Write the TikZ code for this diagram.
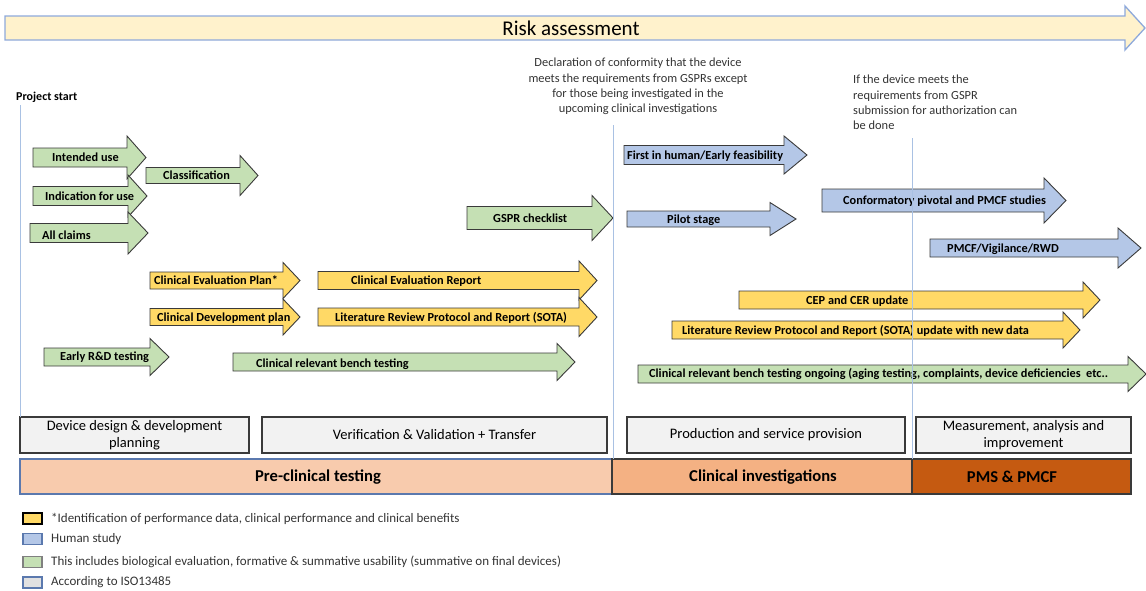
\documentclass[tikz,border=0pt]{standalone}
\usepackage{fontspec}
\setmainfont{Carlito}
\definecolor{rfill}{HTML}{FFF2CC}
\definecolor{rline}{HTML}{8EA9DB}
\definecolor{gfill}{HTML}{C5E0B4}
\definecolor{yfill}{HTML}{FFD966}
\definecolor{bfill}{HTML}{B4C7E7}
\definecolor{grfill}{HTML}{F2F2F2}
\definecolor{oA}{HTML}{F8CBAD}
\definecolor{oB}{HTML}{F4B183}
\definecolor{oC}{HTML}{C55A11}
\definecolor{vline}{HTML}{A9C1E3}
\definecolor{edge}{HTML}{3A3A3A}
\definecolor{txt}{HTML}{333333}
\definecolor{preb}{HTML}{5B79AE}
\newcommand\Arw[7]{\draw[arw,fill=#1] ({#2},{#5-#6}) -- ({#3},{#5-#6}) -- ({#3},{#5-#7}) -- ({#4},{#5}) -- ({#3},{#5+#7}) -- ({#3},{#5+#6}) -- ({#2},{#5+#6}) -- cycle;}
\newcommand\Lbl[4]{\node[lbl,anchor=base west] (#1) at ({#2},{#3+4.2}) {#4};}
\begin{document}
\begin{tikzpicture}[x=1pt,y=-1pt,
  arw/.style={draw=edge,line width=0.9pt,line join=miter},
  lbl/.style={inner sep=0pt,font=\fontsize{12.3}{14}\selectfont\bfseries,text=black},
  graybox/.style={draw=edge,line width=1.2pt,fill=grfill},
  graytxt/.style={inner sep=0pt,align=center,font=\fontsize{14.5}{17}\selectfont,text=black},
  bartxt/.style={inner sep=0pt,font=\fontsize{16.6}{19}\selectfont\bfseries,text=black},
  note/.style={inner sep=0pt,font=\fontsize{12.4}{15.2}\selectfont,text=txt},
  legtxt/.style={inner sep=0pt,anchor=west,font=\fontsize{13}{15}\selectfont,text=txt},
  vl/.style={draw=vline,line width=0.8pt}]
\useasboundingbox (0,0) rectangle (1146,590);

% Risk assessment arrow
\draw[draw=rline,line width=1.3pt,fill=rfill,line join=miter] (5,16) -- (1125,16) -- (1125,6) -- (1145,28) -- (1125,50) -- (1125,40) -- (5,40) -- cycle;
\node[inner sep=0pt,font=\fontsize{21}{24}\selectfont,text=black] (risk) at (571,28) {Risk assessment};

% Notes
\node[inner sep=0pt,anchor=base west,font=\fontsize{12}{14}\selectfont\bfseries,text=black] (pstart) at (16,100) {Project start};
\node[note,align=center] (decl) at (638,86.5) {Declaration of conformity that the device\\meets the requirements from GSPRs except\\for those being investigated in the\\upcoming clinical investigations};
\node[note,align=left,anchor=north west] (ifdev) at (853,75) {If the device meets the\\requirements from GSPR\\submission for authorization can\\be done};

% Green arrows
\Arw{gfill}{33}{127}{146}{157.5}{9.5}{21.5}
\Lbl{intended}{52}{157.5}{Intended use}
\Arw{gfill}{146}{240}{258}{175.5}{8}{20}
\Lbl{classif}{163}{175.5}{Classification}
\Arw{gfill}{33}{128}{147}{196}{9.5}{21}
\Lbl{indic}{45}{196}{Indication for use}
\Arw{gfill}{30}{128}{148}{233}{9.5}{21}
\Lbl{claims}{42}{235}{All claims}
\Arw{gfill}{467}{592}{613}{218}{11.5}{22.5}
\Lbl{gspr}{493}{218}{GSPR checklist}
\Arw{gfill}{44}{150}{169}{357}{9}{18.5}
\Lbl{early}{60}{356}{Early R\&D testing}
\Arw{gfill}{233}{557}{575}{362}{9}{18.5}
\Lbl{bench}{256}{363}{Clinical relevant bench testing}
\Arw{gfill}{638}{1128}{1146}{374}{9}{17.5}
\Lbl{benchon}{649}{373}{Clinical relevant bench testing ongoing (aging testing, complaints, device deficiencies\ \ etc..}

% Yellow arrows
\Arw{yfill}{150}{283}{300}{280.5}{8.5}{18}
\Lbl{cep}{154}{280.5}{Clinical Evaluation Plan*}
\Arw{yfill}{150}{283}{300}{317}{8.5}{18}
\Lbl{cdp}{157}{317}{Clinical Development plan}
\Arw{yfill}{318}{579}{597}{280.5}{9}{19.5}
\Lbl{cer}{351}{280.5}{Clinical Evaluation Report}
\Arw{yfill}{318}{579}{597}{317}{9}{19.5}
\Lbl{litrev}{335}{317}{Literature Review Protocol and Report (SOTA)}
\Arw{yfill}{739}{1083}{1100}{300}{9}{18}
\Lbl{cepcer}{806}{300}{CEP and CER update}
\Arw{yfill}{672}{1063}{1080}{330}{9}{18}
\Lbl{litupd}{682}{330}{Literature Review Protocol and Report (SOTA) update with new data}

% Blue arrows
\Arw{bfill}{624}{784}{807}{155}{9.5}{19}
\Lbl{fih}{627}{155}{First in human/Early feasibility}
\Arw{bfill}{627}{770}{796}{219}{8}{16.5}
\Lbl{pilot}{667}{219}{Pilot stage}
\Arw{bfill}{822}{1044}{1066}{200.5}{11.5}{22.5}
\Lbl{conf}{843}{200.5}{Conformatory pivotal and PMCF studies}
\Arw{bfill}{930}{1118}{1141}{248}{9}{20}
\Lbl{pmcf}{947}{248}{PMCF/Vigilance/RWD}

% Gray boxes
\draw[graybox] (20,417) rectangle (249,453);
\node[graytxt] (g1) at (134.5,435) {Device design \& development\\planning};
\draw[graybox] (262,417) rectangle (607,453);
\node[graytxt] (g2) at (434.5,435) {Verification \& Validation + Transfer};
\draw[graybox] (627,417) rectangle (905,453);
\node[graytxt] (g3) at (766,435) {Production and service provision};
\draw[graybox] (916,417) rectangle (1131,453);
\node[graytxt] (g4) at (1023.5,435) {Measurement, analysis and\\improvement};

% Phase bars
\draw[draw=preb,line width=1.2pt,fill=oA] (20,459) rectangle (612,494);
\node[bartxt] (pre) at (318,477) {Pre-clinical testing};
\draw[draw=edge,line width=1.2pt,fill=oB] (612,459) rectangle (912,494);
\node[bartxt] (clin) at (763,477) {Clinical investigations};
\draw[draw=edge,line width=1.2pt,fill=oC] (912,459) rectangle (1131,494);
\node[bartxt] (pms) at (1012,477) {PMS \& PMCF};

% Vertical lines
\draw[vl] (20,105) -- (20,417);
\draw[vl] (613,125) -- (613,459);
\draw[vl] (912,138) -- (912,459);

% Legend
\draw[draw=black,line width=1.1pt,fill=yfill] (23,513) rectangle (42,524);
\node[legtxt] (l1) at (51,518.5) {*Identification of performance data, clinical performance and clinical benefits};
\draw[draw=preb,line width=1.1pt,fill=bfill] (23,533.5) rectangle (42,544.5);
\node[legtxt] (l2) at (51,539) {Human study};
\draw[draw=gray,line width=1.1pt,fill=gfill] (23,556.5) rectangle (42,567.5);
\node[legtxt] (l3) at (51,562) {This includes biological evaluation, formative \& summative usability (summative on final devices)};
\draw[draw=preb,line width=1.1pt,fill=grfill!85!gray] (23,577) rectangle (42,588);
\node[legtxt] (l4) at (51,582.5) {According to ISO13485};
\end{tikzpicture}
\end{document}
